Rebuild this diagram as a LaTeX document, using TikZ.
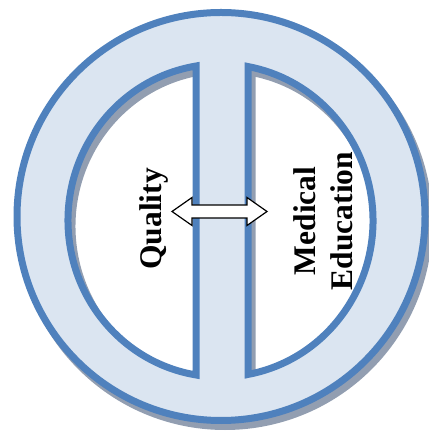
\documentclass[tikz,border=0pt]{standalone}
\usepackage{fontspec}
\setmainfont{Liberation Serif}
\definecolor{ringblue}{RGB}{79,129,189}
\definecolor{ringfill}{RGB}{219,229,241}
\definecolor{ringshadow}{RGB}{146,158,177}

\begin{document}
\begin{tikzpicture}[x=1pt, y=1pt,
		sidetext/.style={font=\fontsize{31.5}{37}\selectfont\bfseries, rotate=90, inner sep=0pt, align=center}]
	\useasboundingbox (0, 0) rectangle (428, 435);
	% inner ellipse: centre (220.5, 214.5), radii 152.5 and 156.5, cut by the bar at x = 196 and x = 248
	\pgfmathsetmacro{\angL}{acos((196-220.5)/152.5)}
	\pgfmathsetmacro{\angR}{acos((248-220.5)/152.5)}
	\pgfmathsetmacro{\hL}{156.5*sin(\angL)}
	\pgfmathsetmacro{\hR}{156.5*sin(\angR)}
	\def\ring{(221, 218.5) circle [radius=204]
		(196, {214.5+\hL}) arc [start angle=\angL, end angle=360-\angL, x radius=152.5, y radius=156.5] -- cycle
		(248, {214.5-\hR}) arc [start angle=-\angR, end angle=\angR, x radius=152.5, y radius=156.5] -- cycle}
	% shadow, shifted down to the right
	\begin{scope}[shift={(4, -6)}]
		\filldraw [ringshadow, line width=7pt, even odd rule] \ring;
	\end{scope}
	\filldraw [draw=ringblue, fill=ringfill, line width=7pt, even odd rule] \ring;
	% the two labels
	\node [sidetext] (quality) at (154, 216) {Quality};
	\node [sidetext] (meded) at (322.8, 214) {Medical\\Education};
	% double-headed block arrow across the bar
	\draw [fill=white, line width=1.2pt] (172, 223.5) -- (192, 237.5) -- (192, 230) -- (247, 230) -- (247, 237.5)
		-- (267, 223.5) -- (247, 209.5) -- (247, 217) -- (192, 217) -- (192, 209.5) -- cycle;
\end{tikzpicture}
\end{document}
